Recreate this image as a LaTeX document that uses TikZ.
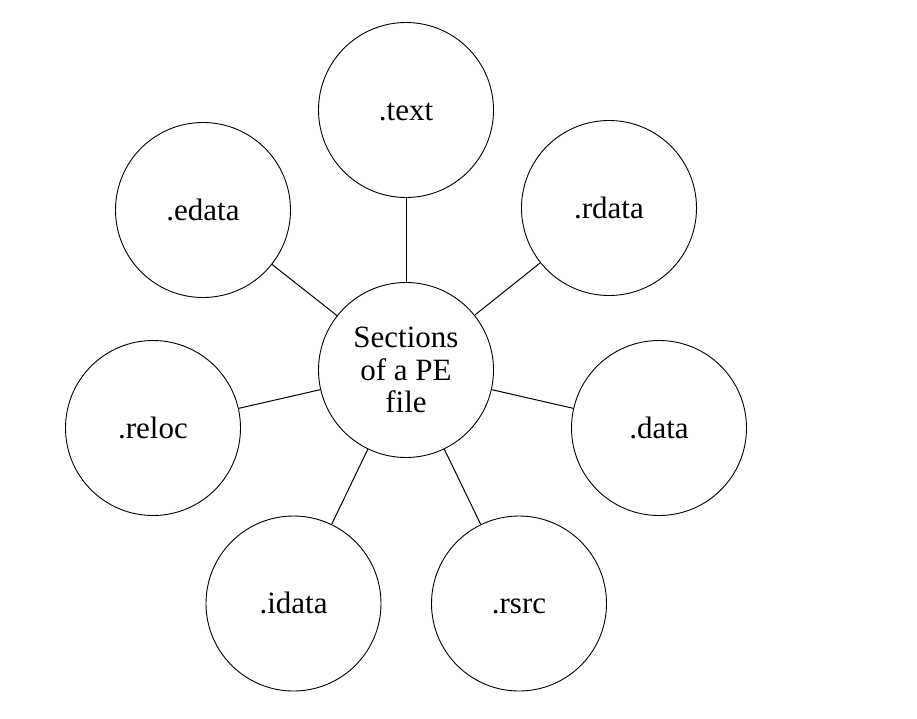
\documentclass[tikz,border=0pt]{standalone}
\usepackage{fontspec}
\setmainfont{Liberation Serif}
\begin{document}
\begin{tikzpicture}[x=1pt,y=-1pt,
  sec/.style={draw, circle, minimum size=175pt, inner sep=0pt, line width=0.9pt,
    font=\fontsize{31}{32.5}\selectfont},
  onel/.style={sec, text height=22pt, text depth=2pt},
  multi/.style={sec, align=center},
  link/.style={line width=1pt}]
\useasboundingbox (0,0) rectangle (917,718);
\node[multi] (c) at (406,370) {Sections\\of a PE\\file};
\node[onel] (text) at (406,110) {.text};
\node[onel] (rdata) at (609,208) {.rdata};
\node[onel] (edata) at (203,210) {.edata};
\node[onel] (reloc) at (153,428) {.reloc};
\node[onel] (data) at (659,428) {.data};
\node[onel] (idata) at (293.5,603.5) {.idata};
\node[onel] (rsrc) at (519,603.5) {.rsrc};
\foreach \n in {text,rdata,edata,reloc,data,idata,rsrc}
  \draw[link] (c) -- (\n);
\end{tikzpicture}
\end{document}
